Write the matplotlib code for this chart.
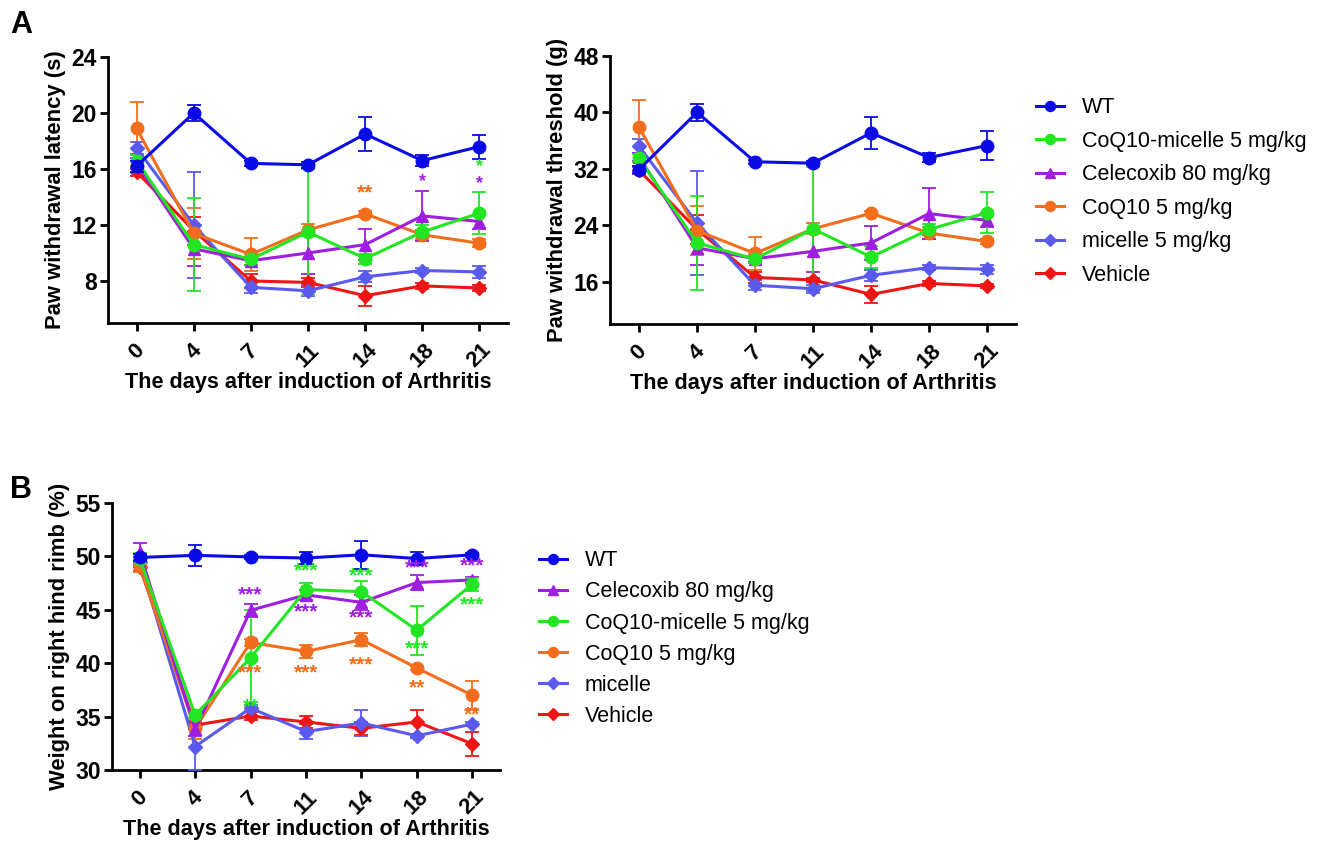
import matplotlib
matplotlib.use("Agg")
import matplotlib.pyplot as plt
from matplotlib.lines import Line2D
import numpy as np

plt.rcParams['font.family'] = ['Liberation Sans', 'DejaVu Sans']

days = ["0", "4", "7", "11", "14", "18", "21"]

# ---------- Panel A left: Paw withdrawal latency (s) ----------
lat_wt = [16.2, 20.0, 16.4, 16.3, 18.5, 16.6, 17.6]
lat_wt_err = [0.4, 0.6, 0.2, 0.2, 1.2, 0.4, 0.85]
lat_mic_coq = [16.6, 10.6, 9.55, 11.5, 9.6, 11.5, 12.85]
lat_mic_coq_err = [0.4, 3.3, 0.4, 4.5, 0.35, 0.5, 1.5]
lat_cel = [16.4, 10.3, 9.45, 10.0, 10.6, 12.65, 12.25]
lat_cel_err = [0.4, 1.2, 0.3, 1.5, 1.1, 1.8, 0.5]
lat_coq = [18.9, 11.4, 9.9, 11.65, 12.8, 11.3, 10.7]
lat_coq_err = [1.9, 1.85, 1.15, 0.45, 0.2, 0.35, 0.3]
lat_mic = [17.5, 12.0, 7.55, 7.3, 8.3, 8.75, 8.65]
lat_mic_err = [0.4, 3.8, 0.4, 0.4, 0.4, 0.2, 0.4]
lat_veh = [15.8, 11.6, 8.0, 7.9, 6.95, 7.65, 7.5]
lat_veh_err = [0.3, 1.0, 0.5, 0.3, 0.7, 0.2, 0.2]

# ---------- Panel A right: Paw withdrawal threshold (g) ----------
thr_wt = [31.9, 40.0, 33.0, 32.8, 37.1, 33.6, 35.3]
thr_wt_err = [0.5, 1.2, 0.3, 0.3, 2.3, 0.6, 2.0]
thr_mic_coq = [33.5, 21.5, 19.2, 23.5, 19.5, 23.4, 25.8]
thr_mic_coq_err = [0.6, 6.7, 0.6, 8.8, 1.5, 0.8, 2.9]
thr_cel = [33.7, 20.8, 19.25, 20.3, 21.5, 25.65, 24.7]
thr_cel_err = [0.6, 2.5, 0.5, 2.9, 2.4, 3.6, 1.0]
thr_coq = [37.9, 23.25, 20.0, 23.5, 25.7, 22.9, 21.7]
thr_coq_err = [3.8, 3.5, 2.3, 0.8, 0.3, 0.8, 0.3]
thr_mic = [35.2, 24.3, 15.5, 15.0, 16.9, 18.0, 17.75]
thr_mic_err = [1.0, 7.4, 0.7, 0.6, 0.8, 0.4, 0.6]
thr_veh = [31.8, 23.4, 16.6, 16.25, 14.2, 15.75, 15.4]
thr_veh_err = [0.5, 2.0, 0.8, 0.3, 1.2, 0.3, 0.3]

# ---------- Panel B: Weight on right hind rimb (%) ----------
wb_wt = [49.9, 50.1, 49.95, 49.85, 50.15, 49.8, 50.15]
wb_wt_err = [0.3, 1.0, 0.2, 0.6, 1.3, 0.6, 0.2]
wb_cel = [50.4, 33.8, 44.95, 46.4, 45.7, 47.55, 47.8]
wb_cel_err = [0.9, 0.6, 0.6, 0.5, 0.7, 0.7, 0.3]
wb_mic_coq = [49.8, 35.15, 40.5, 46.9, 46.7, 43.1, 47.4]
wb_mic_coq_err = [0.5, 0.4, 4.5, 0.6, 1.0, 2.3, 0.6]
wb_coq = [49.1, 33.9, 41.95, 41.1, 42.2, 39.55, 37.0]
wb_coq_err = [0.6, 1.0, 0.3, 0.6, 0.6, 0.2, 1.3]
wb_mic = [49.5, 32.2, 35.8, 33.6, 34.4, 33.2, 34.3]
wb_mic_err = [0.4, 2.2, 0.3, 0.7, 1.2, 0.2, 0.2]
wb_veh = [49.0, 34.2, 35.05, 34.5, 33.9, 34.5, 32.45]
wb_veh_err = [0.4, 0.4, 0.4, 0.6, 0.6, 1.1, 1.1]

# significance stars: (group, day index, y, text)
stars_lat = [("coq", 4, 14.3, "**"), ("cel", 5, 15.1, "*"),
             ("mic_coq", 6, 16.15, "*"), ("cel", 6, 14.95, "*")]
stars_wb = [("cel", 2, 46.4, "***"), ("cel", 3, 44.85, "***"), ("cel", 4, 44.2, "***"),
            ("cel", 5, 48.9, "***"), ("cel", 6, 49.1, "***"),
            ("mic_coq", 2, 35.9, "**"), ("mic_coq", 3, 48.6, "***"), ("mic_coq", 4, 48.2, "***"),
            ("mic_coq", 5, 41.3, "***"), ("mic_coq", 6, 45.5, "***"),
            ("coq", 2, 39.05, "***"), ("coq", 3, 39.05, "***"), ("coq", 4, 39.85, "***"),
            ("coq", 5, 37.65, "**"), ("coq", 6, 35.15, "**")]

colors = {"wt": "#0a0ae6", "mic_coq": "#22e622", "cel": "#a01ee0",
          "coq": "#f26d1c", "mic": "#5a5aee", "veh": "#ee1515"}
markers = {"wt": "o", "mic_coq": "o", "cel": "^", "coq": "o", "mic": "D", "veh": "D"}
msizes = {"wt": 9, "mic_coq": 9, "cel": 9, "coq": 9, "mic": 7.5, "veh": 7.5}

labels_A = {"wt": "WT", "mic_coq": "CoQ10-micelle 5 mg/kg", "cel": "Celecoxib 80 mg/kg",
            "coq": "CoQ10 5 mg/kg", "mic": "micelle 5 mg/kg", "veh": "Vehicle"}
labels_B = {"wt": "WT", "cel": "Celecoxib 80 mg/kg", "mic_coq": "CoQ10-micelle 5 mg/kg",
            "coq": "CoQ10 5 mg/kg", "mic": "micelle", "veh": "Vehicle"}

W, H = 1326, 841
fig = plt.figure(figsize=(W / 100, H / 100), dpi=100)


def add_ax(x0, y0, x1, y1):
    return fig.add_axes([x0 / W, 1 - y1 / H, (x1 - x0) / W, (y1 - y0) / H])


def style(ax, ylim, yticks, ylabel):
    x = np.arange(len(days))
    ax.set_xlim(-0.5, 6.5)
    ax.set_ylim(*ylim)
    ax.set_yticks(yticks)
    ax.set_xticks(x)
    ax.set_xticklabels(days, rotation=45, ha="center", va="top", fontsize=16, fontweight="bold")
    for lab in ax.get_yticklabels():
        lab.set_fontsize(16.5)
        lab.set_fontweight("bold")
    for s in ["top", "right"]:
        ax.spines[s].set_visible(False)
    for s in ["left", "bottom"]:
        ax.spines[s].set_linewidth(2.0)
    ax.tick_params(width=2.0, length=6, direction="out", pad=2)
    ax.tick_params(axis="x", pad=6)
    ax.set_ylabel(ylabel, fontsize=15.8, fontweight="bold", labelpad=4)
    ax.set_xlabel("The days after induction of Arthritis", fontsize=15.6, fontweight="bold", labelpad=0)


def draw(ax, series, order, stars):
    x = np.arange(len(days))
    for key in order:
        vals, errs = series[key]
        c = colors[key]
        ax.errorbar(x, vals, yerr=errs, color=c, ecolor=c, elinewidth=1.3, capsize=5,
                    capthick=1.3, lw=2.2, marker=markers[key], ms=msizes[key], mec=c, mfc=c,
                    zorder=3 if key != "wt" else 4)
    for key, i, y, t in stars:
        ax.text(x[i], y, t, color=colors[key], ha="center", va="center",
                fontsize=15 if len(t) > 1 else 13, fontweight="bold", zorder=5)


order = ["veh", "mic", "coq", "cel", "mic_coq", "wt"]

# Panel A left
ax1 = add_ax(108, 57, 508, 323)
draw(ax1, {"wt": (lat_wt, lat_wt_err), "mic_coq": (lat_mic_coq, lat_mic_coq_err),
           "cel": (lat_cel, lat_cel_err), "coq": (lat_coq, lat_coq_err),
           "mic": (lat_mic, lat_mic_err), "veh": (lat_veh, lat_veh_err)}, order, stars_lat)
style(ax1, (5, 24), [8, 12, 16, 20, 24], "Paw withdrawal latency (s)")

# Panel A right
ax2 = add_ax(610, 56, 1016, 324)
draw(ax2, {"wt": (thr_wt, thr_wt_err), "mic_coq": (thr_mic_coq, thr_mic_coq_err),
           "cel": (thr_cel, thr_cel_err), "coq": (thr_coq, thr_coq_err),
           "mic": (thr_mic, thr_mic_err), "veh": (thr_veh, thr_veh_err)}, order, [])
style(ax2, (10, 48), [16, 24, 32, 40, 48], "Paw withdrawal threshold (g)")

# Panel B
ax3 = add_ax(112, 503, 500, 770)
draw(ax3, {"wt": (wb_wt, wb_wt_err), "mic_coq": (wb_mic_coq, wb_mic_coq_err),
           "cel": (wb_cel, wb_cel_err), "coq": (wb_coq, wb_coq_err),
           "mic": (wb_mic, wb_mic_err), "veh": (wb_veh, wb_veh_err)}, order, stars_wb)
style(ax3, (30, 55), [30, 35, 40, 45, 50, 55], "Weight on right hind rimb (%)")


def legend_handles(keys):
    return [Line2D([0], [0], color=colors[k], lw=2.2, marker=markers[k],
                   ms=msizes[k] * 0.8, mfc=colors[k], mec=colors[k]) for k in keys]


keysA = ["wt", "mic_coq", "cel", "coq", "mic", "veh"]
fig.legend(legend_handles(keysA), [labels_A[k] for k in keysA], loc="upper left",
           bbox_to_anchor=(1017 / W, 1 - 78 / H), frameon=False, fontsize=15.5,
           handlelength=1.3, handletextpad=0.8, labelspacing=0.58)

keysB = ["wt", "cel", "mic_coq", "coq", "mic", "veh"]
fig.legend(legend_handles(keysB), [labels_B[k] for k in keysB], loc="upper left",
           bbox_to_anchor=(520 / W, 1 - 531 / H), frameon=False, fontsize=15.5,
           handlelength=1.3, handletextpad=0.8, labelspacing=0.47)

fig.text(10 / W, 1 - 25 / H, "A", fontsize=22, fontweight="bold", va="center", ha="left")
fig.text(10 / W, 1 - 490 / H, "B", fontsize=22, fontweight="bold", va="center", ha="left")

fig.savefig("out.png", dpi=100)
